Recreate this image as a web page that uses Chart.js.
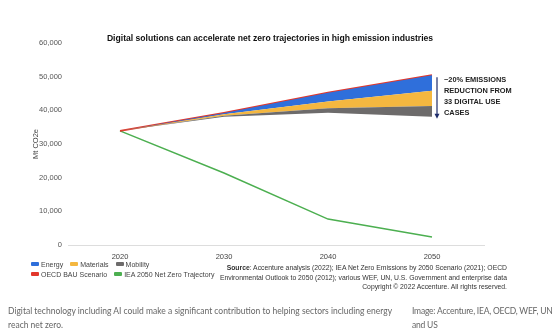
<!DOCTYPE html>
<html>
<head>
<meta charset="utf-8">
<script src="https://cdn.jsdelivr.net/npm/chart.js@4"></script>
<style>
  body { margin: 0; background: #fff; font-family: "Liberation Sans", Arial, sans-serif; }
  #wrap { position: relative; width: 554px; height: 335px; overflow: hidden; }
  #c { position: absolute; left: 0; top: 0; }
  .title { position: absolute; left: 70px; width: 400px; top: 33px; text-align: center; font-size: 8.6px; font-weight: bold; color: #111; white-space: nowrap; }
  .legend { position: absolute; left: 31px; top: 260px; font-size: 7px; color: #444; line-height: 10px; }
  .legend div { white-space: nowrap; }
  .legend span.item { margin-right: 7px; }
  .legend i { display: inline-block; width: 8px; height: 4px; border-radius: 1px; margin-right: 2px; vertical-align: 1px; }
  .source { position: absolute; right: 47px; top: 263px; font-size: 6.8px; line-height: 9.5px; color: #333; text-align: right; white-space: nowrap; }
  .note { position: absolute; left: 444px; top: 74px; font-size: 7.4px; font-weight: bold; line-height: 11px; color: #222; white-space: nowrap; }
  .caption { position: absolute; top: 304px; font-family: Lato, "Open Sans", sans-serif; font-size: 8.5px; line-height: 14px; color: #666; white-space: nowrap; }
</style>
</head>
<body>
<div id="wrap">
  <canvas id="c" width="554" height="268"></canvas>
  <div class="title">Digital solutions can accelerate net zero trajectories in high emission industries</div>
  <div class="legend" id="legend"></div>
  <div class="note">~20% EMISSIONS<br>REDUCTION FROM<br>33 DIGITAL USE<br>CASES</div>
  <div class="source"><b>Source</b>: Accenture analysis (2022); IEA Net Zero Emissions by 2050 Scenario (2021); OECD<br>Environmental Outlook to 2050 (2012); various WEF, UN, U.S. Government and enterprise data<br>Copyright © 2022 Accenture. All rights reserved.</div>
  <div class="caption" style="left:8px">Digital technology including AI could make a significant contribution to helping sectors including energy<br>reach net zero.</div>
  <div class="caption" style="left:412px;letter-spacing:-0.2px">Image: Accenture, IEA, OECD, WEF, UN<br>and US</div>
</div>
<script>
const years = ['2020', '2030', '2040', '2050'];
const yTicks = [0, 10000, 20000, 30000, 40000, 50000, 60000];
// Mt CO2e
const oecdBau   = [33900, 39200, 45200, 50400];
const energyCut = [0, 400, 2600, 4600];
const materialsCut = [0, 400, 2000, 4500];
const mobilityCut  = [0, 300, 1300, 3200];
const ieaNetZero = [33900, 21400, 7700, 2400];

const COLORS = { energy: '#2f6fdb', materials: '#f4b740', mobility: '#6d6b6b', bau: '#e2372b', iea: '#4caf50' };

// band edges built from BAU minus each reduction slice
const energyLow    = oecdBau.map((v, i) => v - energyCut[i]);
const materialsLow = energyLow.map((v, i) => v - materialsCut[i]);
const mobilityLow  = materialsLow.map((v, i) => v - mobilityCut[i]);

const legendRows = [
  [['Energy', COLORS.energy], ['Materials', COLORS.materials], ['Mobility', COLORS.mobility]],
  [['OECD BAU Scenario', COLORS.bau], ['IEA 2050 Net Zero Trajectory', COLORS.iea]],
];
document.getElementById('legend').innerHTML = legendRows.map(r =>
  '<div>' + r.map(([t, c]) => `<span class="item"><i style="background:${c}"></i>${t}</span>`).join('') + '</div>'
).join('');

const arrow = {
  id: 'arrow',
  afterDatasetsDraw(chart) {
    const { ctx, scales: { x, y } } = chart;
    const px = x.getPixelForValue(3) + 5;
    const top = y.getPixelForValue(oecdBau[3]) + 2;
    const bot = y.getPixelForValue(mobilityLow[3]) + 1;
    ctx.save();
    ctx.strokeStyle = '#1f2d6b';
    ctx.fillStyle = '#1f2d6b';
    ctx.lineWidth = 1.2;
    ctx.beginPath(); ctx.moveTo(px, top); ctx.lineTo(px, bot - 3); ctx.stroke();
    ctx.beginPath(); ctx.moveTo(px - 2.5, bot - 4); ctx.lineTo(px + 2.5, bot - 4); ctx.lineTo(px, bot + 1); ctx.closePath(); ctx.fill();
    ctx.restore();
  }
};

const flat = { pointRadius: 0, tension: 0 };
new Chart(document.getElementById('c'), {
  type: 'line',
  data: {
    labels: years,
    datasets: [
      { label: 'base', data: mobilityLow, borderWidth: 0, borderColor: 'transparent', fill: false, ...flat },
      { label: 'Mobility', data: materialsLow, borderWidth: 0, borderColor: 'transparent', backgroundColor: COLORS.mobility, fill: '-1', ...flat },
      { label: 'Materials', data: energyLow, borderWidth: 0, borderColor: 'transparent', backgroundColor: COLORS.materials, fill: '-1', ...flat },
      { label: 'Energy', data: oecdBau, borderWidth: 0, borderColor: 'transparent', backgroundColor: COLORS.energy, fill: '-1', ...flat },
      { label: 'OECD BAU Scenario', data: oecdBau, borderWidth: 2, borderColor: COLORS.bau, fill: false, ...flat },
      { label: 'IEA 2050 Net Zero Trajectory', data: ieaNetZero, borderWidth: 1.5, borderColor: COLORS.iea, fill: false, ...flat },
    ],
  },
  options: {
    responsive: false,
    animation: false,
    layout: { padding: { left: 30, right: 70, top: 43, bottom: 0 } },
    plugins: {
      legend: { display: false },
      tooltip: { enabled: false },
    },
    scales: {
      x: {
        offset: true,
        grid: { display: false, drawTicks: false },
        border: { color: '#ddd', width: 1 },
        ticks: { color: '#444', font: { family: 'Liberation Sans', size: 7.5 }, padding: 7 },
      },
      y: {
        min: yTicks[0], max: yTicks[yTicks.length - 1],
        afterBuildTicks: s => { s.ticks = yTicks.map(v => ({ value: v })); },
        afterFit: s => { s.width = 38; },
        grid: { display: false, drawTicks: false },
        border: { display: false },
        ticks: { color: '#555', font: { family: 'Liberation Sans', size: 7.5 }, padding: 6, callback: v => v.toLocaleString('en-US') },
        title: { display: true, text: 'Mt CO2e', color: '#444', font: { family: 'Liberation Sans', size: 7.5 }, padding: 1 },
      },
    },
  },
  plugins: [arrow],
});
</script>
</body>
</html>
